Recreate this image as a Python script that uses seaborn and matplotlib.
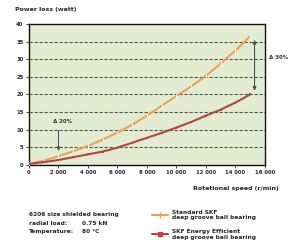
import numpy as np
import pandas as pd
import matplotlib
matplotlib.use("Agg")
import matplotlib.pyplot as plt
import seaborn as sns
from matplotlib.lines import Line2D

speed = [0, 1000, 2000, 3000, 4000, 5000, 6000, 7000, 8000, 9000, 10000, 11000, 12000, 13000, 14000, 15000]
standard = [0.3, 1.2, 2.5, 3.9, 5.4, 7.2, 9.2, 11.4, 14.0, 16.8, 19.6, 22.3, 25.3, 28.8, 32.5, 36.5]
energy_eff = [0.3, 0.8, 1.4, 2.2, 3.0, 3.8, 4.9, 6.3, 7.7, 9.1, 10.6, 12.2, 14.0, 15.7, 17.7, 20.0]
series_names = ["Standard SKF\ndeep groove ball bearing", "SKF Energy Efficient\ndeep groove ball bearing"]
x_ticks = [0, 2000, 4000, 6000, 8000, 10000, 12000, 14000, 16000]
x_tick_labels = ["0", "2 000", "4 000", "6 000", "8 000", "10 000", "12 000", "14 000", "16 000"]
y_ticks = [0, 5, 10, 15, 20, 25, 30, 35, 40]

df_std = pd.DataFrame({"speed": speed, "loss": standard})
df_ee = pd.DataFrame({"speed": speed, "loss": energy_eff})

sns.set_theme(style="white")
plt.rcParams["font.family"] = ["DejaVu Sans"]

fig = plt.figure(figsize=(2.93, 2.48), dpi=100)
ax = fig.add_axes([0.099, 0.335, 0.805, 0.568])
ax.set_facecolor("#e3ecd2")

c_std = "#efa055"
c_ee = "#b5473a"
sns.lineplot(data=df_std, x="speed", y="loss", color=c_std, marker="|", markersize=2.5,
             markeredgewidth=0.8, linewidth=1.5, ax=ax, zorder=3)
sns.lineplot(data=df_ee, x="speed", y="loss", color=c_ee, marker="s", markersize=2,
             markeredgewidth=0, linewidth=1.5, ax=ax, zorder=3)

ax.set_xlim(0, 16000)
ax.set_ylim(0, 40)
ax.set_xticks(x_ticks)
ax.set_xticklabels(x_tick_labels, fontsize=3.8, fontweight="bold")
ax.set_yticks(y_ticks)
ax.set_yticklabels([str(v) for v in y_ticks], fontsize=3.8, fontweight="bold")
ax.tick_params(axis="both", length=2, width=0.6, pad=2, direction="out", bottom=True, left=True)
ax.set_xlabel("")
ax.set_ylabel("")
for y in y_ticks[1:-1]:
    ax.axhline(y, color="#4f5e4a", lw=0.8, ls=(0, (3, 1.5)), zorder=0.5)
for s in ax.spines.values():
    s.set_color("#111111")
    s.set_linewidth(1.0)

# annotations
ax.annotate("", xy=(2000, 3.2), xytext=(2000, 10.6),
            arrowprops=dict(arrowstyle="-|>", color="#45504a", lw=0.7, mutation_scale=5))
ax.text(2300, 11.5, "\u0394 20%", fontsize=4, fontweight="bold", ha="center", va="bottom", color="#333333")
ax.annotate("", xy=(15300, 20.3), xytext=(15300, 36.3),
            arrowprops=dict(arrowstyle="<|-|>", color="#45504a", lw=0.8, mutation_scale=5))
ax.text(16300, 30.5, "\u0394 30%", fontsize=4, fontweight="bold", ha="left", va="center",
        color="#333333", clip_on=False)

fig.text(0.05, 0.96, "Power loss (watt)", fontsize=4.5, fontweight="bold", ha="left", va="center")
fig.text(0.95, 0.238, "Rotational speed (r/min)", fontsize=4.5, fontweight="bold", ha="right", va="center")

fig.text(0.10, 0.135, "6206 size shielded bearing", fontsize=4.2, fontweight="bold", va="center")
fig.text(0.10, 0.100, "radial load:", fontsize=4.2, fontweight="bold", va="center")
fig.text(0.28, 0.100, "0.75 kN", fontsize=4.2, fontweight="bold", va="center")
fig.text(0.10, 0.065, "Temperature:", fontsize=4.2, fontweight="bold", va="center")
fig.text(0.28, 0.065, "80 \u00b0C", fontsize=4.2, fontweight="bold", va="center")

# legend
handles = [
    Line2D([0], [0], color=c_std, marker="|", markersize=5, lw=1.5),
    Line2D([0], [0], color=c_ee, marker="s", markersize=3, lw=1.5),
]
fig.legend(handles, series_names, loc="upper left", bbox_to_anchor=(0.52, 0.155),
           frameon=False, handlelength=2.6, labelspacing=1.5,
           prop={"weight": "bold", "size": 4.2}, borderaxespad=0, borderpad=0)

fig.savefig("out.png", dpi=100)
